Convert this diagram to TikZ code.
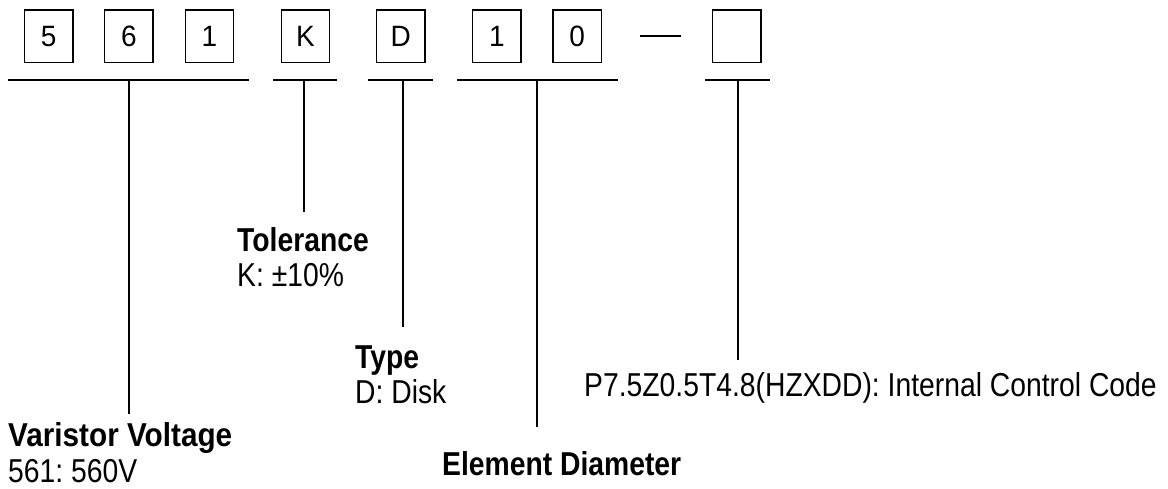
\documentclass[tikz,border=0pt]{standalone}
\usepackage{graphicx}
\usepackage{fontspec}
\setmainfont{Liberation Sans}
\frenchspacing
\newcommand{\vstr}[1]{\scalebox{1}[1.17]{#1}}
\newcommand{\dstr}[1]{\scalebox{1}[1.05]{#1}}
\begin{document}
\begin{tikzpicture}[x=1pt,y=-1pt,
  digit/.style={draw,line width=1.3pt,minimum width=48.5pt,minimum height=52.5pt,inner sep=0pt,font=\fontsize{28}{32}\selectfont},
  rule/.style={line width=1.4pt},
  lbl/.style={anchor=base west,inner sep=0pt,font=\fontsize{28.3}{32}\selectfont\frenchspacing},
  head/.style={lbl,font=\fontsize{28.3}{32}\selectfont\bfseries\frenchspacing}]
\useasboundingbox (0,0) rectangle (1168,489);
% boxes
\node[digit] (b5) at (48.7,36.3) {\dstr{5}};
\node[digit] (b6) at (128.8,36.3) {\dstr{6}};
\node[digit] (b1) at (209.5,36.3) {\dstr{1}};
\node[digit] (bK) at (305.5,36.3) {\dstr{K}};
\node[digit] (bD) at (400.8,36.3) {\dstr{D}};
\node[digit] (b1b) at (496.8,36.3) {\dstr{1}};
\node[digit] (b0) at (577.2,36.3) {\dstr{0}};
\node[digit] (bx) at (736.7,36.3) {};
% dash
\coordinate (d1) at (640,36);
\coordinate (d2) at (681,36);
\draw[rule] (d1) -- (d2);
% bars
\coordinate (v1a) at (8,80);   \coordinate (v1b) at (249,80);
\coordinate (t1a) at (273,80); \coordinate (t1b) at (337,80);
\coordinate (y1a) at (368,80); \coordinate (y1b) at (433,80);
\coordinate (e1a) at (457,80); \coordinate (e1b) at (618,80);
\coordinate (c1a) at (705,80); \coordinate (c1b) at (770,80);
\draw[rule] (v1a) -- (v1b);
\draw[rule] (t1a) -- (t1b);
\draw[rule] (y1a) -- (y1b);
\draw[rule] (e1a) -- (e1b);
\draw[rule] (c1a) -- (c1b);
% drops
\coordinate (vt) at (129,80);  \coordinate (ve) at (129,414);
\coordinate (tt) at (304,80);  \coordinate (te) at (304,212);
\coordinate (yt) at (403,80);  \coordinate (ye) at (403,327);
\coordinate (et) at (537,80);  \coordinate (ee) at (537,427);
\coordinate (ct) at (738,80);  \coordinate (ce) at (738,360);
\draw[rule] (vt) -- (ve);
\draw[rule] (tt) -- (te);
\draw[rule] (yt) -- (ye);
\draw[rule] (et) -- (ee);
\draw[rule] (ct) -- (ce);
% labels
\node[head] (vh) at (8,446.5) {\scalebox{1.05}[1.17]{Varistor Voltage}};
\node[lbl] (vv) at (8,482) {\vstr{561: 560V}};
\node[head] (th) at (237,251.7) {\vstr{Tolerance}};
\node[lbl] (tv) at (237,287) {\vstr{K: ±10\%}};
\node[head] (yh) at (355,368.5) {\vstr{Type}};
\node[lbl] (yv) at (355,403) {\vstr{D: Disk}};
\node[head] (eh) at (442,475) {\vstr{Element Diameter}};
\node[lbl] (cv) at (584,396) {\vstr{P7.5Z0.5T4.8(HZXDD): Internal Control Code}};
\end{tikzpicture}
\end{document}
